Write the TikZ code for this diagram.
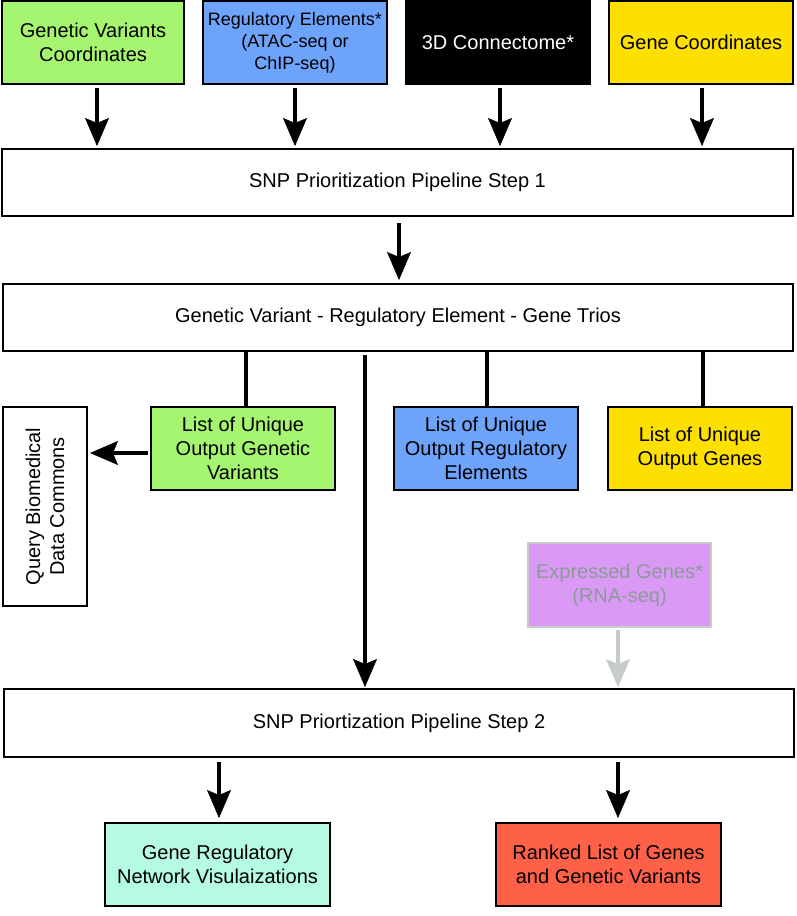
\documentclass[tikz,border=0pt]{standalone}
\usepackage{fontspec}
\setmainfont{Liberation Sans}
\usetikzlibrary{arrows.meta}
\definecolor{cgreen}{RGB}{166,245,112}
\definecolor{cblue}{RGB}{110,163,250}
\definecolor{cyellow}{RGB}{253,224,0}
\definecolor{cpurple}{RGB}{218,153,245}
\definecolor{cpurpleline}{RGB}{200,204,204}
\definecolor{cgraytext}{RGB}{140,154,152}
\definecolor{cgrayarrow}{RGB}{197,204,203}
\definecolor{cteal}{RGB}{180,250,228}
\definecolor{cred}{RGB}{255,97,72}
\begin{document}
\begin{tikzpicture}[x=1pt,y=-1pt,
  box/.style={draw=black, line width=1.6pt, rectangle, inner sep=0pt, outer sep=0pt,
    align=center, font=\fontsize{20}{24}\selectfont},
  smallbox/.style={box, font=\fontsize{18}{22}\selectfont},
  arr/.style={line width=3.2pt, -{Stealth[length=28pt,width=24pt,inset=5pt,line width=0.5pt]}},
  grayarr/.style={arr, draw=cgrayarrow, color=cgrayarrow},
  ln/.style={line width=3.2pt},
  rottxt/.style={rotate=90, align=center, font=\fontsize{20}{24}\selectfont}]
\useasboundingbox (0,0) rectangle (796,916);

% top row
\node[box, fill=cgreen, minimum width=182, minimum height=83] (gvc) at (93,42.5) {Genetic Variants\\Coordinates};
\node[smallbox, fill=cblue, minimum width=184, minimum height=83] (reg) at (295,42.5) {Regulatory Elements*\\(ATAC-seq or\\ChIP-seq)};
\node[box, fill=black, text=white, minimum width=184, minimum height=83] (con) at (498,42.5) {3D Connectome*};
\node[box, fill=cyellow, minimum width=184, minimum height=83] (gen) at (701,42.5) {Gene Coordinates};

% step 1
\node[box, minimum width=791, minimum height=67] (step1) at (397.5,182.5) {SNP Prioritization Pipeline Step 1};

% trios
\node[box, minimum width=790, minimum height=67] (trios) at (398,317.5) {Genetic Variant - Regulatory Element - Gene Trios};

% lists
\node[box, fill=cgreen, minimum width=184, minimum height=83] (lgv) at (243,448.5) {List of Unique\\Output Genetic\\Variants};
\node[box, fill=cblue, minimum width=184, minimum height=83] (lre) at (486,448.5) {List of Unique\\Output Regulatory\\Elements};
\node[box, fill=cyellow, minimum width=184, minimum height=83] (lg) at (700,448.5) {List of Unique\\Output Genes};

% query
\node[box, minimum width=84, minimum height=199] (query) at (45,506.5) {};
\node[rottxt] (qtxt) at (query.center) {Query Biomedical\\Data Commons};

% expressed genes
\node[box, draw=cpurpleline, fill=cpurple, text=cgraytext, minimum width=183, minimum height=84] (expr) at (619.5,585) {Expressed Genes*\\(RNA-seq)};

% step 2
\node[box, minimum width=790, minimum height=68] (step2) at (399,723) {SNP Priortization Pipeline Step 2};

% outputs
\node[box, fill=cteal, minimum width=225, minimum height=83] (grn) at (217.5,864.5) {Gene Regulatory\\Network Visulaizations};
\node[box, fill=cred, minimum width=225, minimum height=83] (rank) at (608.5,864.5) {Ranked List of Genes\\and Genetic Variants};

% arrows top -> step1
\draw[arr, shorten <=4pt, shorten >=3pt] ([xshift=4pt]gvc.south) -- ([xshift=4pt]gvc.south |- step1.north);
\draw[arr, shorten <=4pt, shorten >=3pt] (reg.south) -- (reg.south |- step1.north);
\draw[arr, shorten <=4pt, shorten >=3pt] ([xshift=2pt]con.south) -- ([xshift=2pt]con.south |- step1.north);
\draw[arr, shorten <=4pt, shorten >=3pt] ([xshift=1pt]gen.south) -- ([xshift=1pt]gen.south |- step1.north);

% step1 -> trios
\draw[arr, shorten <=7pt, shorten >=4pt] ([xshift=1.5pt]step1.south) -- ([xshift=1.5pt]step1.south |- trios.north);

% trios -> lists
\draw[ln] ([xshift=3pt]lgv.north) -- ([xshift=3pt]lgv.north |- trios.south);
\draw[ln] ([xshift=1pt]lre.north) -- ([xshift=1pt]lre.north |- trios.south);
\draw[ln] ([xshift=3pt]lg.north) -- ([xshift=3pt]lg.north |- trios.south);

% trios -> step2 long arrow
\draw[arr, shorten <=4pt, shorten >=2pt] ([xshift=-33pt]trios.south) -- ([xshift=-33pt]trios.south |- step2.north);

% list genetic variants -> query
\draw[arr, shorten <=3pt, shorten >=3pt] ([yshift=-4.5pt]lgv.west) -- ([yshift=-4.5pt]lgv.west -| query.east);

% expressed -> step2
\draw[grayarr, shorten <=3pt, shorten >=2pt] ([xshift=-1.5pt]expr.south) -- ([xshift=-1.5pt]expr.south |- step2.north);

% step2 -> outputs
\draw[arr, shorten <=5pt, shorten >=5pt] ([xshift=1.5pt]grn.north |- step2.south) -- ([xshift=1.5pt]grn.north);
\draw[arr, shorten <=5pt, shorten >=5pt] ([xshift=9.5pt]rank.north |- step2.south) -- ([xshift=9.5pt]rank.north);
\end{tikzpicture}
\end{document}
